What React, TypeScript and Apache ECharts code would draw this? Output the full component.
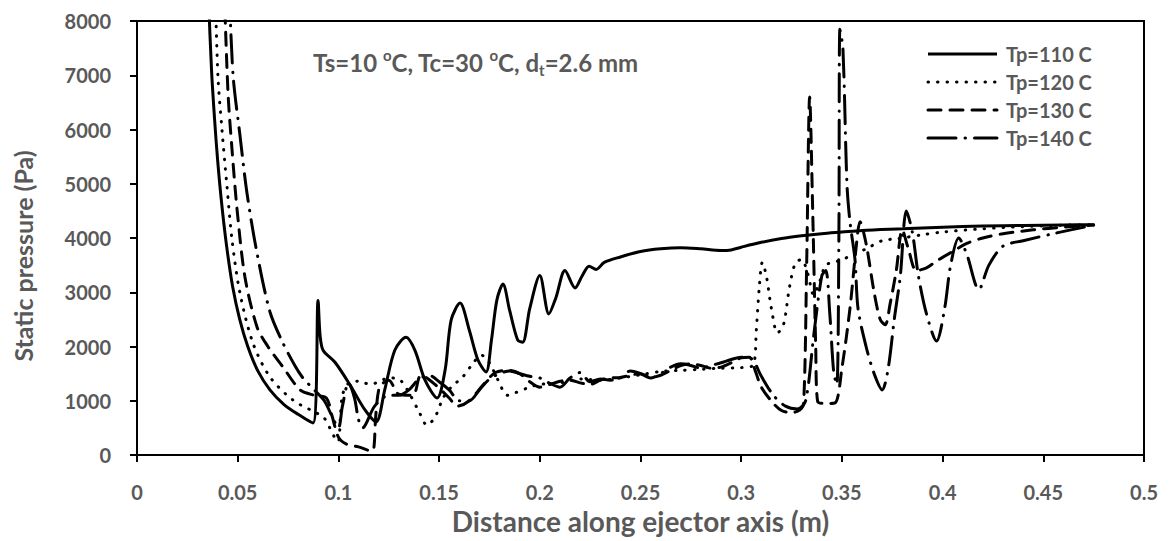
import React, { useEffect, useRef } from "react";
import * as echarts from "echarts";

const seriesNames = ["Tp=110 C", "Tp=120 C", "Tp=130 C", "Tp=140 C"];
const xTicks = [0, 0.05, 0.1, 0.15, 0.2, 0.25, 0.3, 0.35, 0.4, 0.45, 0.5];
const xTitle = "Distance along ejector axis (m)";
const yTitle = "Static pressure (Pa)";

const tp110: [number, number][] = [
  [0.0353, 8600], [0.037, 7100], [0.0385, 6200], [0.04, 5450], [0.042, 4650],
  [0.0445, 3850], [0.0475, 3100], [0.051, 2500], [0.055, 2000], [0.06, 1550],
  [0.066, 1200], [0.073, 930], [0.08, 750], [0.0874, 590], [0.0899, 2850],
  [0.0909, 2210], [0.0924, 1930], [0.0983, 1710],
  [0.1058, 1290], [0.1132, 830], [0.1187, 610], [0.123, 1200], [0.128, 1930],
  [0.1336, 2170], [0.138, 1930], [0.143, 1380], [0.149, 1050], [0.153, 1570],
  [0.156, 2490], [0.1604, 2800], [0.165, 2300], [0.1693, 1750], [0.1733, 1530],
  [0.176, 2120], [0.1787, 2860], [0.1817, 3150], [0.185, 2670], [0.189, 2120],
  [0.1915, 2080], [0.195, 2700], [0.2, 3310], [0.2045, 2600], [0.208, 2900],
  [0.2125, 3400], [0.2175, 3080], [0.221, 3300], [0.2245, 3480], [0.228, 3420],
  [0.232, 3550], [0.24, 3650], [0.25, 3750], [0.26, 3800], [0.27, 3820],
  [0.28, 3800], [0.29, 3770], [0.295, 3780], [0.3, 3830], [0.31, 3920],
  [0.32, 3990], [0.33, 4040], [0.34, 4080], [0.35, 4110], [0.36, 4140],
  [0.38, 4170], [0.4, 4200], [0.42, 4220], [0.44, 4230], [0.46, 4240], [0.475, 4245]
];

const tp120: [number, number][] = [
  [0.0388, 8600], [0.0402, 6970], [0.0422, 5990], [0.0447, 4940], [0.0472, 3960],
  [0.0511, 2990], [0.0576, 2060], [0.066, 1440], [0.0775, 1010], [0.0894, 770],
  [0.093, 680], [0.096, 480], [0.0985, 300], [0.1, 250], [0.101, 700],
  [0.102, 1100], [0.105, 1320], [0.11, 1360], [0.116, 1300], [0.12, 1350],
  [0.125, 1420], [0.13, 1400], [0.135, 1150], [0.14, 800], [0.144, 550],
  [0.148, 700], [0.152, 1050], [0.156, 1250], [0.162, 1450], [0.167, 1700],
  [0.171, 1840], [0.175, 1700], [0.179, 1400], [0.184, 1100], [0.188, 1150],
  [0.195, 1250], [0.2, 1300], [0.21, 1330], [0.22, 1400], [0.23, 1380],
  [0.24, 1420], [0.25, 1480], [0.26, 1540], [0.27, 1560], [0.28, 1580],
  [0.29, 1600], [0.3, 1610], [0.306, 1660], [0.3075, 2300], [0.309, 3100],
  [0.3105, 3550], [0.3125, 3300], [0.315, 2700], [0.318, 2250], [0.321, 2400],
  [0.324, 3100], [0.327, 3550], [0.33, 3600], [0.333, 3350], [0.336, 2950],
  [0.339, 3200], [0.342, 3500], [0.346, 3550], [0.35, 3600], [0.356, 3700],
  [0.362, 3800], [0.37, 3950], [0.378, 3990], [0.39, 4060], [0.4, 4110],
  [0.42, 4170], [0.44, 4210], [0.46, 4235], [0.475, 4245]
];

const tp130: [number, number][] = [
  [0.0433, 8600], [0.0452, 6670], [0.0472, 5620], [0.0497, 4520], [0.0536, 3280],
  [0.0596, 2360], [0.065, 2000], [0.0725, 1620], [0.081, 1200], [0.088, 1100],
  [0.094, 1050], [0.097, 700], [0.1, 330], [0.104, 200], [0.11, 150],
  [0.116, 80], [0.1175, 100], [0.1185, 700], [0.12, 1200], [0.122, 1320],
  [0.125, 1380], [0.13, 1120], [0.137, 1100], [0.141, 1470], [0.148, 1300],
  [0.155, 1050], [0.159, 900], [0.165, 1000], [0.172, 1300], [0.178, 1520],
  [0.185, 1560], [0.19, 1500], [0.195, 1350], [0.2, 1250], [0.205, 1300],
  [0.21, 1360], [0.215, 1380], [0.22, 1330], [0.225, 1300], [0.23, 1380],
  [0.235, 1420], [0.24, 1430], [0.245, 1470], [0.25, 1500], [0.255, 1430],
  [0.26, 1470], [0.265, 1560], [0.27, 1650], [0.275, 1680], [0.28, 1650],
  [0.285, 1600], [0.29, 1620], [0.295, 1700], [0.3, 1790], [0.304, 1800],
  [0.307, 1550], [0.31, 1250], [0.316, 950], [0.32, 820], [0.325, 780],
  [0.329, 830], [0.331, 950], [0.3325, 3500], [0.334, 6600], [0.3355, 4500],
  [0.337, 2000], [0.338, 980], [0.342, 950], [0.3466, 960], [0.35, 1600],
  [0.354, 2700], [0.357, 3800], [0.359, 4300], [0.362, 3900], [0.366, 3000],
  [0.369, 2500], [0.3715, 2400], [0.374, 2800], [0.377, 3400], [0.38, 4150],
  [0.383, 3800], [0.387, 3400], [0.392, 3450], [0.398, 3600], [0.405, 3750],
  [0.412, 3900], [0.42, 4000], [0.43, 4080], [0.445, 4150], [0.46, 4200], [0.475, 4240]
];

const tp140: [number, number][] = [
  [0.0458, 8600], [0.0477, 7000], [0.0511, 5900], [0.0546, 4830], [0.0596, 3720],
  [0.066, 2640], [0.072, 2100], [0.0785, 1640], [0.0824, 1420], [0.088, 1200],
  [0.093, 1000], [0.097, 700], [0.1, 500], [0.102, 900], [0.105, 1330],
  [0.108, 1050], [0.11, 650], [0.112, 500], [0.118, 900], [0.125, 1100],
  [0.13, 1100], [0.135, 1200], [0.14, 1400], [0.145, 1470], [0.15, 1350],
  [0.155, 1200], [0.16, 1000], [0.165, 1000], [0.17, 1200], [0.175, 1400],
  [0.18, 1500], [0.185, 1550], [0.19, 1500], [0.195, 1450], [0.2, 1420],
  [0.205, 1320], [0.21, 1250], [0.215, 1420], [0.22, 1520], [0.225, 1350],
  [0.23, 1400], [0.235, 1380], [0.24, 1420], [0.245, 1550], [0.25, 1500],
  [0.255, 1420], [0.26, 1500], [0.265, 1620], [0.27, 1680], [0.275, 1650],
  [0.28, 1600], [0.285, 1650], [0.29, 1700], [0.295, 1760], [0.3, 1800],
  [0.305, 1780], [0.31, 1450], [0.316, 1100], [0.322, 900], [0.328, 850],
  [0.332, 1000], [0.336, 2200], [0.34, 3300], [0.342, 3400], [0.344, 2600],
  [0.346, 1500], [0.3475, 1300], [0.3485, 4000], [0.349, 7850], [0.3505, 7500],
  [0.3525, 5000], [0.354, 4300], [0.3565, 3600], [0.358, 2700], [0.362, 2000],
  [0.366, 1500], [0.37, 1200], [0.373, 1600], [0.376, 2500], [0.379, 3300],
  [0.382, 4500], [0.385, 4100], [0.388, 3300], [0.392, 2600], [0.397, 2100],
  [0.401, 2700], [0.404, 3500], [0.408, 4000], [0.412, 3700], [0.418, 3050],
  [0.423, 3500], [0.43, 3850], [0.44, 3950], [0.455, 4080], [0.475, 4240]
];

const seriesData = [tp110, tp120, tp130, tp140];
const lineDashes: any[] = [null, [0.5, 9], [13, 9], [28, 9, 0.5, 9]];

const FONT = "Lato";
const GRAY = "#595959";

export default function App() {
  const ref = useRef<HTMLDivElement>(null);
  useEffect(() => {
    if (!ref.current) return;
    const chart = echarts.init(ref.current, undefined, { renderer: "svg" });

    const legendGraphics: any[] = [];
    seriesNames.forEach((name, i) => {
      const cy = 54 + i * 28;
      legendGraphics.push({
        type: "line",
        shape: { x1: 928, y1: cy, x2: 997, y2: cy },
        style: {
          stroke: "#000", lineWidth: 3,
          lineDash: lineDashes[i] || undefined,
          lineCap: i === 0 ? "butt" : "round"
        }
      });
      legendGraphics.push({
        type: "text", x: 1006, y: cy,
        style: {
          text: name, fontFamily: FONT, fontWeight: "bold", fontSize: 20, fill: GRAY,
          verticalAlign: "middle", align: "left"
        }
      });
    });

    const option: any = {
      animation: false,
      backgroundColor: "#fff",
      grid: {
        left: 137, top: 21, width: 1007, height: 434,
        show: true, borderColor: "#000", borderWidth: 2, backgroundColor: "transparent"
      },
      xAxis: {
        type: "value", min: 0, max: 0.5, interval: 0.05,
        name: xTitle, nameLocation: "middle", nameGap: 50,
        nameTextStyle: { fontFamily: FONT, fontWeight: "bold", fontSize: 28, color: GRAY },
        axisLine: { show: true, onZero: false, lineStyle: { color: "#000", width: 2 } },
        axisTick: { show: true, length: 7, lineStyle: { color: "#000", width: 2 } },
        axisLabel: {
          margin: 27, fontFamily: FONT, fontWeight: "bold", fontSize: 20, color: GRAY,
          formatter: (v: number) => String(xTicks.find((t) => Math.abs(t - v) < 1e-9) ?? +v.toFixed(2))
        },
        splitLine: { show: false }
      },
      yAxis: {
        type: "value", min: 0, max: 8000, interval: 1000,
        axisLine: { show: true, lineStyle: { color: "#000", width: 2 } },
        axisTick: { show: true, length: 7, lineStyle: { color: "#000", width: 2 } },
        axisLabel: {
          margin: 26, fontFamily: FONT, fontWeight: "bold", fontSize: 20, color: GRAY,
          formatter: (v: number) => String(Math.round(v))
        },
        splitLine: { show: false }
      },
      graphic: [
        {
          type: "text", x: 23, y: 256, rotation: Math.PI / 2,
          style: {
            text: yTitle, fontFamily: FONT, fontWeight: "bold", fontSize: 25, fill: GRAY,
            align: "center", verticalAlign: "middle"
          }
        },
        {
          type: "text", left: 313, top: 47,
          style: {
            text: "Ts=10 {sup|o}C, Tc=30 {sup|o}C, d{sub|t}=2.6 mm",
            fontFamily: FONT, fontWeight: "bold", fontSize: 24, fill: GRAY, lineHeight: 30,
            rich: {
              sup: { fontFamily: FONT, fontWeight: "bold", fontSize: 15, fill: GRAY, verticalAlign: "top", lineHeight: 30 },
              sub: { fontFamily: FONT, fontWeight: "bold", fontSize: 15, fill: GRAY, verticalAlign: "bottom", lineHeight: 30 }
            }
          }
        },
        ...legendGraphics
      ],
      series: seriesData.map((d, i) => ({
        name: seriesNames[i], type: "line", data: d, symbol: "none", showSymbol: false,
        smooth: 0.3, clip: true,
        lineStyle: { color: "#000", width: 3, type: lineDashes[i] || "solid", cap: i === 0 ? "butt" : "round" },
        itemStyle: { color: "#000" }
      }))
    };
    chart.setOption(option);
    return () => chart.dispose();
  }, []);
  return <div ref={ref} style={{ position: "absolute", left: 0, top: 0, width: 1169, height: 541 }} />;
}
